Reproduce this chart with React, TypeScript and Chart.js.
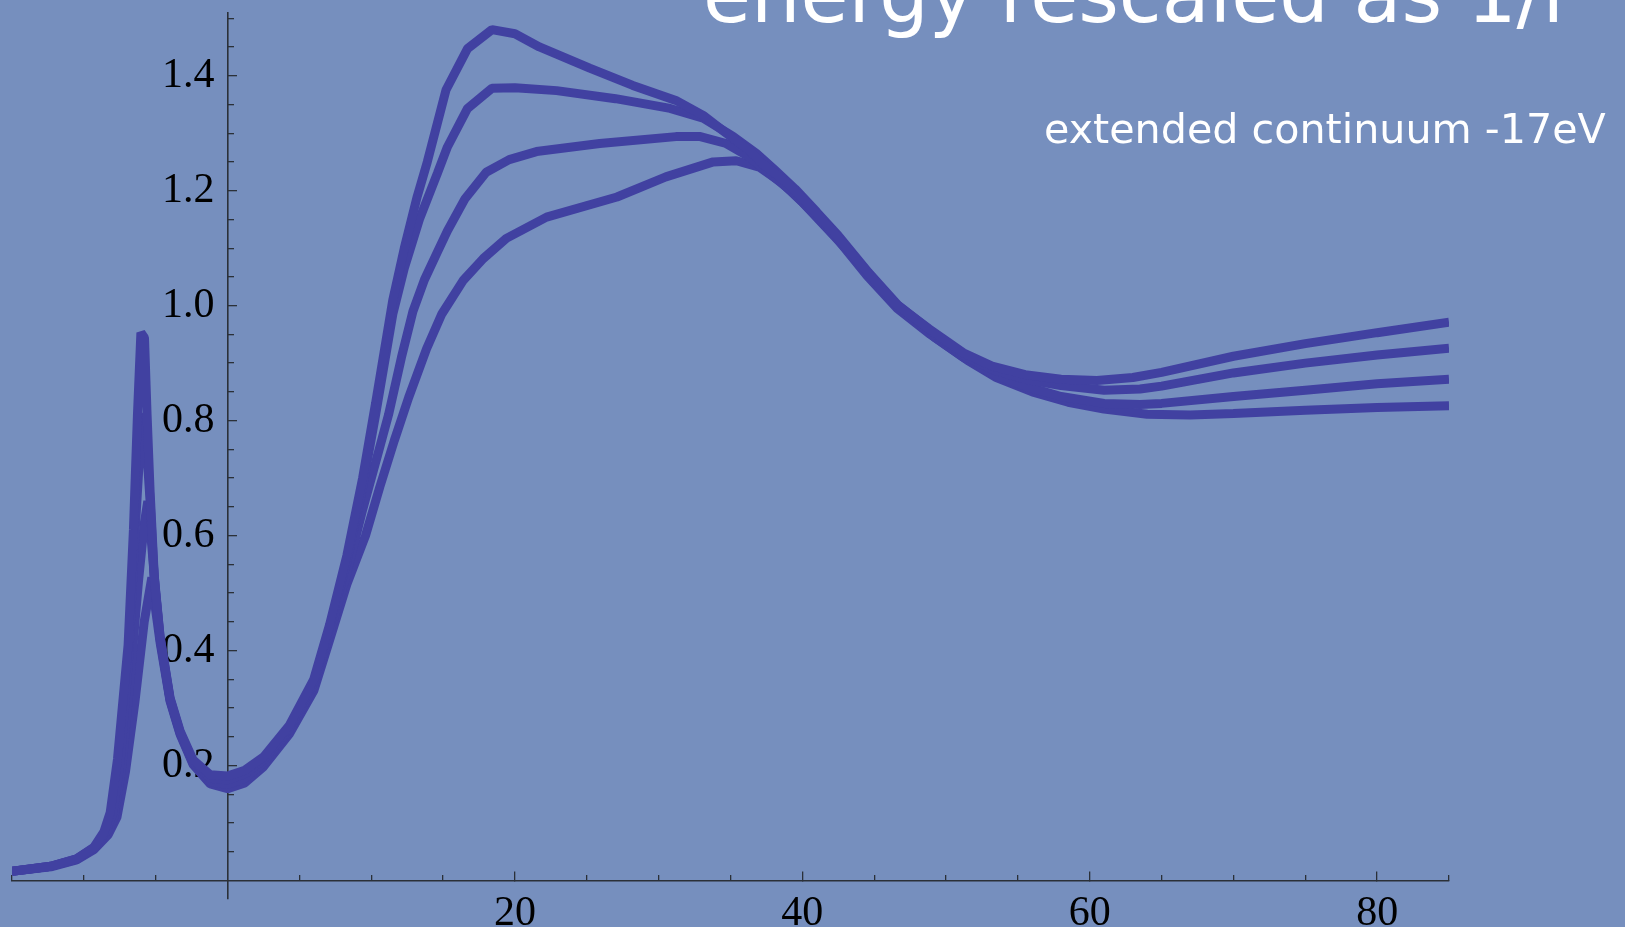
import React, { useEffect, useRef } from "react";
import { Chart, registerables } from "chart.js";

Chart.register(...registerables);

// ---- data ----
const x1 = [-15, -12.3, -10.5, -9.3, -8.6, -8.17, -7.66, -6.92, -6.55, -6.27, -6.03, -5.78, -5.6, -5.39, -5.1, -4.7, -4.0, -3.3, -2.4, -1.2, 0, 1.2, 2.5, 4.3, 6.0, 7.1, 8.3, 9.4, 10.3, 11.5, 12.3, 13.2, 13.9, 15.2, 16.7, 18.4, 20.0, 21.7, 25.2, 28.2, 31.2, 33.1, 34.7, 36.3, 37.2, 39.1, 40.7, 42.1, 44.4, 46.5, 48.8, 51.2, 53.2, 55.5, 58.0, 60.5, 63.0, 65.0, 70.0, 75.0, 80.0, 85.0];
const y1 = [0.016, 0.025, 0.038, 0.058, 0.085, 0.118, 0.211, 0.41, 0.61, 0.81, 0.953, 0.944, 0.81, 0.677, 0.53, 0.425, 0.318, 0.26, 0.21, 0.184, 0.182, 0.192, 0.215, 0.27, 0.35, 0.445, 0.565, 0.70, 0.83, 1.01, 1.10, 1.19, 1.25, 1.375, 1.447, 1.48, 1.473, 1.45, 1.413, 1.383, 1.357, 1.331, 1.30, 1.27, 1.247, 1.21, 1.168, 1.13, 1.062, 1.003, 0.96, 0.918, 0.895, 0.88, 0.872, 0.87, 0.875, 0.884, 0.912, 0.934, 0.953, 0.971];

const x2 = [-15, -12.3, -10.5, -9.3, -8.5, -8.0, -7.5, -6.9, -6.45, -6.1, -5.87, -5.6, -5.39, -5.1, -4.7, -4.0, -3.3, -2.4, -1.2, 0, 1.2, 2.5, 4.3, 6.0, 7.1, 8.3, 9.4, 10.3, 11.5, 12.3, 13.35, 14.6, 15.3, 16.7, 18.4, 20.0, 22.9, 27.0, 30.8, 33.1, 35.2, 36.8, 38.0, 39.5, 41.0, 42.5, 44.6, 46.7, 49.0, 51.3, 53.3, 55.5, 58.0, 61.0, 63.5, 65.0, 70.0, 75.0, 80.0, 85.0];
const y2 = [0.016, 0.025, 0.038, 0.057, 0.083, 0.115, 0.2, 0.38, 0.6, 0.75, 0.813, 0.74, 0.66, 0.525, 0.425, 0.316, 0.258, 0.207, 0.178, 0.175, 0.186, 0.21, 0.265, 0.345, 0.44, 0.555, 0.685, 0.81, 0.985, 1.065, 1.15, 1.23, 1.276, 1.343, 1.378, 1.379, 1.374, 1.36, 1.343, 1.326, 1.294, 1.265, 1.238, 1.203, 1.163, 1.122, 1.058, 1.0, 0.955, 0.912, 0.888, 0.872, 0.861, 0.853, 0.855, 0.86, 0.883, 0.9, 0.914, 0.926];

const x3 = [-15, -12.3, -10.5, -9.3, -8.4, -7.9, -7.35, -6.75, -6.2, -5.8, -5.55, -5.3, -5.0, -4.7, -4.0, -3.3, -2.4, -1.2, 0, 1.2, 2.5, 4.3, 6.0, 7.1, 8.3, 9.4, 10.3, 11.2, 12.1, 12.9, 13.7, 14.6, 15.3, 16.5, 18.0, 19.6, 21.5, 25.9, 31.2, 32.9, 34.7, 36.3, 37.6, 39.2, 40.8, 42.3, 44.5, 46.6, 48.9, 51.2, 53.3, 55.5, 58.0, 61.0, 63.5, 65.0, 70.0, 75.0, 80.0, 85.0];
const y3 = [0.016, 0.025, 0.037, 0.056, 0.08, 0.11, 0.2, 0.36, 0.52, 0.62, 0.66, 0.59, 0.5, 0.42, 0.314, 0.256, 0.204, 0.172, 0.167, 0.178, 0.205, 0.26, 0.338, 0.43, 0.535, 0.645, 0.727, 0.81, 0.91, 0.99, 1.045, 1.093, 1.13, 1.185, 1.232, 1.254, 1.268, 1.282, 1.294, 1.294, 1.282, 1.259, 1.232, 1.2, 1.16, 1.12, 1.052, 0.995, 0.95, 0.91, 0.88, 0.86, 0.842, 0.83, 0.828, 0.83, 0.842, 0.853, 0.864, 0.872];

const x4 = [-15, -12.3, -10.5, -9.3, -8.3, -7.7, -7.1, -6.45, -5.8, -5.27, -5.0, -4.7, -4.0, -3.3, -2.4, -1.2, 0, 1.2, 2.5, 4.3, 6.0, 7.1, 8.3, 9.6, 10.6, 11.6, 12.6, 13.85, 14.9, 16.4, 17.8, 19.4, 22.2, 27.1, 30.5, 33.8, 35.4, 37.0, 38.5, 40.0, 41.5, 43.0, 45.0, 47.0, 49.2, 51.5, 53.5, 56.0, 58.5, 61.0, 64.0, 67.0, 70.0, 75.0, 80.0, 85.0];
const y4 = [0.016, 0.024, 0.036, 0.054, 0.08, 0.11, 0.19, 0.31, 0.45, 0.527, 0.47, 0.415, 0.312, 0.254, 0.202, 0.168, 0.16, 0.17, 0.198, 0.255, 0.33, 0.418, 0.515, 0.6, 0.685, 0.765, 0.84, 0.925, 0.985, 1.044, 1.082, 1.117, 1.154, 1.189, 1.224, 1.25, 1.252, 1.241, 1.215, 1.18, 1.14, 1.1, 1.04, 0.99, 0.945, 0.905, 0.875, 0.85, 0.832, 0.82, 0.811, 0.81, 0.8125, 0.818, 0.823, 0.826];

const xMajorTicks = [20, 40, 60, 80];
const xMinorTicks = [-15, -10, -5, 5, 10, 15, 25, 30, 35, 45, 50, 55, 65, 70, 75, 85];
const yMajorTicks = [0.2, 0.4, 0.6, 0.8, 1.0, 1.2, 1.4];
const yMinorTicks = [0.05, 0.1, 0.15, 0.25, 0.3, 0.35, 0.45, 0.5, 0.55, 0.65, 0.7, 0.75, 0.85, 0.9, 0.95, 1.05, 1.1, 1.15, 1.25, 1.3, 1.35, 1.45, 1.5];

const titleText = "energy rescaled as 1/r";
const subtitleText = "extended continuum -17eV";

const X_MIN = -15;
const X_MAX = 85;
const Y_MIN = -0.032;
const Y_MAX = 1.509;
const Y_LABEL_AT = -0.9; // x value where the y tick labels are right-aligned

// ---- styles ----
const BG = "rgb(118,143,190)";
const LINE = "#4141a1";
const AXIS = "#2b3038";
const LABEL_FONT = "'Liberation Serif', 'Times New Roman', serif";
const TEXT_FONT = "'DejaVu Sans', 'Noto Sans', sans-serif";

const zeroPad = (s: any) => {
  s.paddingLeft = 0;
  s.paddingRight = 0;
  s.paddingTop = 0;
  s.paddingBottom = 0;
};

function fittedText(ctx: CanvasRenderingContext2D, text: string, left: number, right: number, baseline: number) {
  ctx.font = `100px ${TEXT_FONT}`;
  const w = ctx.measureText(text).width;
  const size = (100 * (right - left)) / w;
  ctx.font = `${size}px ${TEXT_FONT}`;
  ctx.textAlign = "left";
  ctx.textBaseline = "alphabetic";
  ctx.fillText(text, left, baseline);
}

const decorPlugin = {
  id: "decor",
  beforeDraw(chart: any) {
    const ctx = chart.ctx;
    ctx.save();
    ctx.fillStyle = BG;
    ctx.fillRect(0, 0, chart.width, chart.height);
    ctx.restore();
  },
  afterDraw(chart: any) {
    const ctx = chart.ctx;
    ctx.save();
    ctx.fillStyle = "#ffffff";
    fittedText(ctx, titleText, 703, 1575, 22);
    fittedText(ctx, subtitleText, 1044, 1606, 143);
    ctx.restore();
  },
};

const tickOnlyY = (ticks: number[], len: number) => ({
  type: "linear",
  axis: "y",
  min: Y_MIN,
  max: Y_MAX,
  position: { x: 0 },
  afterBuildTicks: (s: any) => {
    s.ticks = ticks.map((v) => ({ value: v }));
  },
  afterFit: zeroPad,
  grid: { display: true, drawOnChartArea: false, drawTicks: true, tickLength: len, color: AXIS, lineWidth: 1.3 },
  border: { display: false },
  ticks: { display: false },
});

export default function App() {
  const ref = useRef<HTMLCanvasElement>(null);

  useEffect(() => {
    if (!ref.current) return;
    const series = [
      [x1, y1],
      [x2, y2],
      [x3, y3],
      [x4, y4],
    ];
    const chart = new Chart(ref.current, {
      type: "scatter",
      data: {
        datasets: series.map(([xs, ys]) => ({
          data: xs.map((x, i) => ({ x, y: ys[i] })),
          showLine: true,
          borderColor: LINE,
          backgroundColor: LINE,
          borderWidth: 9,
          pointRadius: 0,
          tension: 0,
          fill: false,
          borderJoinStyle: "bevel" as const,
          xAxisID: "x",
          yAxisID: "y",
        })),
      },
      options: {
        animation: false,
        responsive: false,
        devicePixelRatio: 1,
        events: [],
        layout: { padding: { left: 12, right: 176, top: 13, bottom: 28 } },
        plugins: { legend: { display: false }, tooltip: { enabled: false }, title: { display: false } },
        scales: {
          x: {
            type: "linear",
            axis: "x",
            min: X_MIN,
            max: X_MAX,
            position: { y: 0 },
            afterBuildTicks: (s: any) => {
              s.ticks = xMajorTicks.map((v) => ({ value: v }));
            },
            afterFit: zeroPad,
            grid: { display: true, drawOnChartArea: false, drawTicks: true, tickLength: -10, color: AXIS, lineWidth: 1.3 },
            border: { display: true, color: AXIS, width: 1.6 },
            ticks: {
              autoSkip: false,
              maxRotation: 0,
              padding: 18,
              color: "#000",
              font: { family: LABEL_FONT, size: 42 },
              callback: (v: any) => String(v),
            },
          },
          xMinor: {
            type: "linear",
            axis: "x",
            min: X_MIN,
            max: X_MAX,
            position: { y: 0 },
            afterBuildTicks: (s: any) => {
              s.ticks = xMinorTicks.map((v) => ({ value: v }));
            },
            afterFit: zeroPad,
            grid: { display: true, drawOnChartArea: false, drawTicks: true, tickLength: -6, color: AXIS, lineWidth: 1.3 },
            border: { display: false },
            ticks: { display: false },
          },
          y: {
            type: "linear",
            axis: "y",
            min: Y_MIN,
            max: Y_MAX,
            position: { x: 0 },
            afterBuildTicks: (s: any) => {
              s.ticks = yMajorTicks.map((v) => ({ value: v }));
            },
            afterFit: zeroPad,
            grid: { display: true, drawOnChartArea: false, drawTicks: true, tickLength: -10, color: AXIS, lineWidth: 1.3 },
            border: { display: true, color: AXIS, width: 1.6 },
            ticks: { display: false },
          },
          yMinor: tickOnlyY(yMinorTicks, -6),
          yLabels: {
            type: "linear",
            axis: "y",
            min: Y_MIN,
            max: Y_MAX,
            position: { x: Y_LABEL_AT },
            afterBuildTicks: (s: any) => {
              s.ticks = yMajorTicks.map((v) => ({ value: v }));
            },
            afterFit: zeroPad,
            grid: { display: false },
            border: { display: false },
            ticks: {
              autoSkip: false,
              padding: 0,
              color: "#000",
              font: { family: LABEL_FONT, size: 42 },
              callback: (v: any) => Number(v).toFixed(1),
            },
          },
        },
      } as any,
      plugins: [decorPlugin],
    });
    return () => chart.destroy();
  }, []);

  return (
    <canvas
      ref={ref}
      width={1625}
      height={927}
      style={{ position: "fixed", left: 0, top: 0, width: "1625px", height: "927px", display: "block" }}
    />
  );
}
